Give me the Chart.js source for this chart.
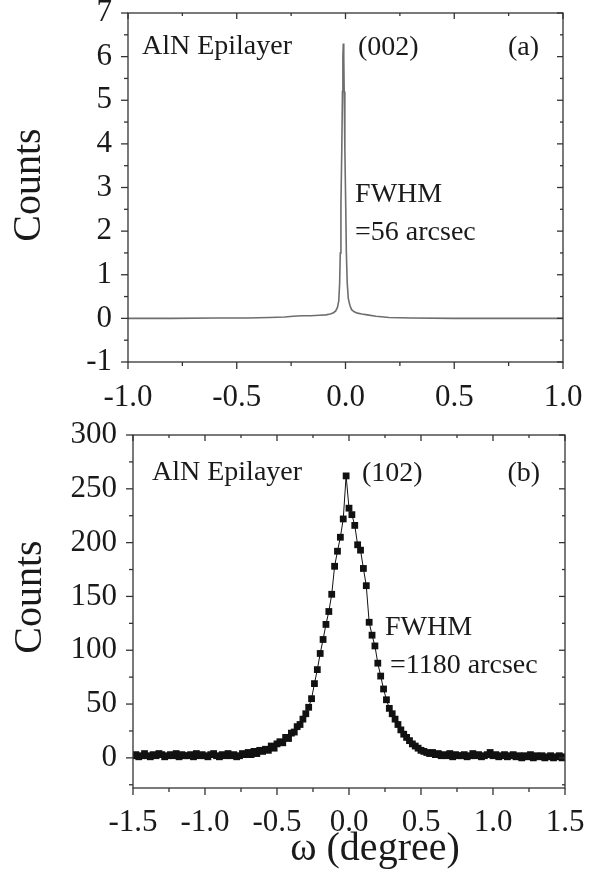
<!DOCTYPE html>
<html>
<head>
<meta charset="utf-8">
<script src="https://cdn.jsdelivr.net/npm/chart.js@4.4.0/dist/chart.umd.min.js"></script>
<style>
  html, body { margin: 0; padding: 0; background: #fff; }
  #wrap { position: relative; width: 594px; height: 884px; }
  canvas { position: absolute; left: 0; }
  #chartA { top: 0; }
  #chartB { top: 420px; }
</style>
</head>
<body>
<div id="wrap">
  <canvas id="chartA" width="594" height="420"></canvas>
  <canvas id="chartB" width="594" height="464"></canvas>
</div>
<script>
// (a) AlN (002) rocking curve
const omegaA = [
  -1.0, -0.8, -0.6, -0.45, -0.35, -0.28, -0.24, -0.2, -0.16, -0.12,
  -0.09, -0.07, -0.055, -0.045, -0.037, -0.031, -0.027, -0.024, -0.021, -0.017,
  -0.014, -0.012, -0.01, -0.008, -0.006, -0.003, 0.001, 0.004, 0.008, 0.013,
  0.02, 0.028, 0.04, 0.055, 0.075, 0.1, 0.14, 0.2, 0.3, 0.5, 0.8, 1.0
];
const countsA = [
  0, 0, 0.01, 0.01, 0.02, 0.03, 0.05, 0.06, 0.06, 0.07,
  0.08, 0.1, 0.13, 0.17, 0.25, 0.4, 0.8, 1.5, 2.6, 3.9,
  5.2, 6.0, 6.3, 6.0, 5.2, 3.9, 2.6, 1.5, 0.8, 0.45,
  0.3, 0.2, 0.15, 0.12, 0.1, 0.08, 0.05, 0.02, 0.01, 0, 0, 0
];
const xTicksA = [-1.0, -0.5, 0.0, 0.5, 1.0];
const xMinorA = [-0.75, -0.25, 0.25, 0.75];
const yTicksA = [-1, 0, 1, 2, 3, 4, 5, 6, 7];
const yMinorA = [-0.5, 0.5, 1.5, 2.5, 3.5, 4.5, 5.5, 6.5];

// (b) AlN (102) rocking curve
const omegaB = [
  -1.50, -1.48, -1.46, -1.44, -1.42, -1.40, -1.38, -1.36, -1.34, -1.32,
  -1.30, -1.28, -1.26, -1.24, -1.22, -1.20, -1.18, -1.16, -1.14, -1.12,
  -1.10, -1.08, -1.06, -1.04, -1.02, -1.00, -0.98, -0.96, -0.94, -0.92,
  -0.90, -0.88, -0.86, -0.84, -0.82, -0.80, -0.78, -0.76, -0.74, -0.72,
  -0.70, -0.68, -0.66, -0.64, -0.62, -0.60, -0.58, -0.56, -0.54, -0.52,
  -0.50, -0.48, -0.46, -0.44, -0.42, -0.40, -0.38, -0.36, -0.34, -0.32,
  -0.30, -0.28, -0.26, -0.24, -0.22, -0.20, -0.18, -0.16, -0.14, -0.12,
  -0.10, -0.08, -0.06, -0.04, -0.02, 0.00, 0.02, 0.04, 0.06, 0.08,
  0.10, 0.12, 0.14, 0.16, 0.18, 0.20, 0.22, 0.24, 0.26, 0.28,
  0.30, 0.32, 0.34, 0.36, 0.38, 0.40, 0.42, 0.44, 0.46, 0.48,
  0.50, 0.52, 0.54, 0.56, 0.58, 0.60, 0.62, 0.64, 0.66, 0.68,
  0.70, 0.72, 0.74, 0.76, 0.78, 0.80, 0.82, 0.84, 0.86, 0.88,
  0.90, 0.92, 0.94, 0.96, 0.98, 1.00, 1.02, 1.04, 1.06, 1.08,
  1.10, 1.12, 1.14, 1.16, 1.18, 1.20, 1.22, 1.24, 1.26, 1.28,
  1.30, 1.32, 1.34, 1.36, 1.38, 1.40, 1.42, 1.44, 1.46, 1.48,
  1.50
];
const countsB = [
  2, 3, 1, 2, 4, 2, 1, 3, 2, 4,
  3, 1, 2, 3, 2, 4, 1, 3, 2, 2,
  3, 1, 4, 2, 3, 2, 1, 3, 4, 2,
  1, 3, 2, 4, 2, 3, 1, 2, 4, 3,
  5, 3, 6, 4, 7, 6, 8, 7, 11, 9,
  13, 15, 14, 19, 18, 23, 24, 29, 31, 36,
  41, 47, 55, 69, 82, 97, 110, 124, 136, 152,
  178, 192, 205, 222, 262, 232, 226, 216, 198, 193,
  176, 160, 126, 114, 104, 88, 76, 64, 54, 46,
  41, 36, 31, 26, 22, 19, 16, 13, 11, 9,
  7, 6, 5, 4, 5, 3, 4, 2, 3, 2,
  4, 1, 3, 2, 2, 3, 1, 2, 4, 2,
  3, 1, 2, 3, 5, 2, 3, 1, 2, 3,
  1, 2, 3, 1, 2, 0, 2, 1, 3, 0,
  2, 1, 2, 0, 1, 2, 0, 1, 2, 0,
  1
];
const xTicksB = [-1.5, -1.0, -0.5, 0.0, 0.5, 1.0, 1.5];
const xMinorB = [-1.25, -0.75, -0.25, 0.25, 0.75, 1.25];
const yTicksB = [0, 50, 100, 150, 200, 250, 300];
const yMinorB = [-25, 25, 75, 125, 175, 225, 275];

const SERIF = "'Liberation Serif', 'DejaVu Serif', serif";
const INK = "#1a1a1a";

// frame box with mirrored ticks on all four sides
const frameTicks = {
  id: "frameTicks",
  afterDraw(chart, args, o) {
    const { ctx, chartArea: a, scales } = chart;
    ctx.save();
    ctx.strokeStyle = "#333";
    ctx.lineWidth = 1.3;
    ctx.strokeRect(a.left, a.top, a.right - a.left, a.bottom - a.top);
    const tick = (x1, y1, x2, y2) => {
      ctx.beginPath();
      ctx.moveTo(x1, y1);
      ctx.lineTo(x2, y2);
      ctx.stroke();
    };
    const xs = [...o.xMajor.map((v) => [v, 7]), ...o.xMinor.map((v) => [v, 4])];
    xs.forEach(([v, len]) => {
      const px = scales.x.getPixelForValue(v);
      tick(px, a.bottom, px, a.bottom + len);
      tick(px, a.top, px, a.top + len - 1);
    });
    const ys = [...o.yMajor.map((v) => [v, 7]), ...o.yMinor.map((v) => [v, 4])];
    ys.forEach(([v, len]) => {
      const py = scales.y.getPixelForValue(v);
      tick(a.left - len, py, a.left, py);
      tick(a.right - len + 1, py, a.right, py);
    });
    ctx.restore();
  },
};

// text labels placed in data coordinates
const notes = {
  id: "notes",
  afterDraw(chart, args, o) {
    const { ctx, scales } = chart;
    ctx.save();
    ctx.fillStyle = INK;
    ctx.font = "28px " + SERIF;
    ctx.textBaseline = "alphabetic";
    ctx.textAlign = "left";
    o.items.forEach((n) => {
      ctx.fillText(n.text, scales.x.getPixelForValue(n.x), scales.y.getPixelForValue(n.y));
    });
    ctx.restore();
  },
};

// axis titles
const axisTitles = {
  id: "axisTitles",
  afterDraw(chart, args, o) {
    const { ctx } = chart;
    ctx.save();
    ctx.fillStyle = INK;
    ctx.font = "40px " + SERIF;
    if (o.y) {
      ctx.translate(o.y.x, o.y.y);
      ctx.rotate(-Math.PI / 2);
      ctx.textAlign = "center";
      ctx.textBaseline = "middle";
      ctx.fillText(o.y.text, 0, 0);
      ctx.setTransform(1, 0, 0, 1, 0, 0);
    }
    if (o.x) {
      ctx.textAlign = "center";
      ctx.textBaseline = "alphabetic";
      ctx.fillText(o.x.text, o.x.x, o.x.y);
    }
    ctx.restore();
  },
};

function toPoints(xs, ys) {
  return xs.map((x, i) => ({ x: x, y: ys[i] }));
}

function buildScales(opt) {
  return {
    x: {
      type: "linear",
      min: opt.xMin,
      max: opt.xMax,
      afterBuildTicks: (s) => { s.ticks = opt.xTicks.map((v) => ({ value: v })); },
      afterFit: (s) => { s.height = opt.xHeight; s.paddingLeft = 0; s.paddingRight = 0; },
      grid: { display: false, drawTicks: false },
      border: { display: false },
      ticks: {
        padding: opt.xPad,
        color: INK,
        autoSkip: false,
        maxRotation: 0,
        font: { family: SERIF, size: 31 },
        callback: (v) => Number(v).toFixed(1),
      },
    },
    y: {
      type: "linear",
      min: opt.yMin,
      max: opt.yMax,
      afterBuildTicks: (s) => { s.ticks = opt.yTicks.map((v) => ({ value: v })); },
      afterFit: (s) => { s.width = opt.yWidth; s.paddingTop = 0; s.paddingBottom = 0; },
      grid: { display: false, drawTicks: false },
      border: { display: false },
      ticks: {
        padding: opt.yPad,
        color: INK,
        autoSkip: false,
        font: { family: SERIF, size: 31 },
        callback: (v) => String(v),
      },
    },
  };
}

Chart.defaults.font.family = SERIF;

new Chart(document.getElementById("chartA"), {
  type: "line",
  data: {
    datasets: [{
      data: toPoints(omegaA, countsA),
      borderColor: "#6e6e6e",
      borderWidth: 1.6,
      pointRadius: 0,
      tension: 0,
    }],
  },
  options: {
    responsive: false,
    animation: false,
    layout: { padding: { top: 13, right: 31, left: 0, bottom: 0 } },
    scales: buildScales({
      xMin: -1, xMax: 1, xTicks: xTicksA, xHeight: 58, xPad: 17,
      yMin: -1, yMax: 7, yTicks: yTicksA, yWidth: 128, yPad: 16,
    }),
    plugins: {
      legend: { display: false },
      tooltip: { enabled: false },
      frameTicks: { xMajor: xTicksA, xMinor: xMinorA, yMajor: yTicksA, yMinor: yMinorA },
      notes: {
        items: [
          { text: "AlN Epilayer", x: -0.936, y: 6.07 },
          { text: "(002)", x: 0.057, y: 6.03 },
          { text: "(a)", x: 0.747, y: 6.03 },
          { text: "FWHM", x: 0.044, y: 2.66 },
          { text: "=56 arcsec", x: 0.044, y: 1.79 },
        ],
      },
      axisTitles: { y: { text: "Counts", x: 29, y: 185 } },
    },
  },
  plugins: [frameTicks, notes, axisTitles],
});

new Chart(document.getElementById("chartB"), {
  type: "line",
  data: {
    datasets: [{
      data: toPoints(omegaB, countsB),
      borderColor: "#111",
      borderWidth: 1,
      pointStyle: "rect",
      pointRadius: 4.8,
      pointBackgroundColor: "#111",
      pointBorderWidth: 0,
      tension: 0,
    }],
  },
  options: {
    responsive: false,
    animation: false,
    layout: { padding: { top: 15, right: 29, left: 0, bottom: 0 } },
    scales: buildScales({
      xMin: -1.5, xMax: 1.5, xTicks: xTicksB, xHeight: 96, xPad: 16,
      yMin: -28, yMax: 300, yTicks: yTicksB, yWidth: 133, yPad: 16,
    }),
    plugins: {
      legend: { display: false },
      tooltip: { enabled: false },
      frameTicks: { xMajor: xTicksB, xMinor: xMinorB, yMajor: yTicksB, yMinor: yMinorB },
      notes: {
        items: [
          { text: "AlN Epilayer", x: -1.368, y: 258 },
          { text: "(102)", x: 0.09, y: 257 },
          { text: "(b)", x: 1.10, y: 257 },
          { text: "FWHM", x: 0.25, y: 114.5 },
          { text: "=1180 arcsec", x: 0.285, y: 79 },
        ],
      },
      axisTitles: {
        y: { text: "Counts", x: 30, y: 177 },
        x: { text: "\u03c9 (degree)", x: 375, y: 440 },
      },
    },
  },
  plugins: [frameTicks, notes, axisTitles],
});
</script>
</body>
</html>
